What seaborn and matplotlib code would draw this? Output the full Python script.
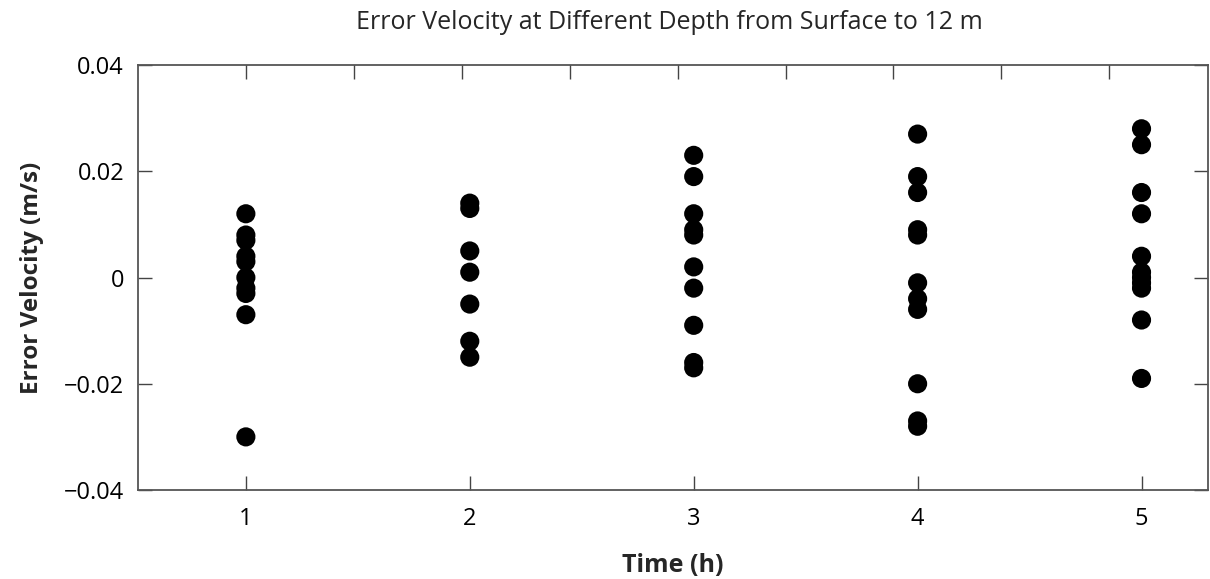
import numpy as np
import pandas as pd
import matplotlib
matplotlib.use("Agg")
import matplotlib.pyplot as plt
import seaborn as sns

# Data
t1 = [0.012, 0.008, 0.007, 0.004, 0.003, 0.0, -0.002, -0.003, -0.007, -0.030]
t2 = [0.014, 0.013, 0.005, 0.001, -0.005, -0.012, -0.015]
t3 = [0.023, 0.019, 0.012, 0.009, 0.008, 0.002, -0.002, -0.009, -0.016, -0.017]
t4 = [0.027, 0.019, 0.016, 0.009, 0.008, -0.001, -0.004, -0.006, -0.020, -0.027, -0.028]
t5 = [0.028, 0.025, 0.016, 0.012, 0.004, 0.001, 0.0, -0.001, -0.002, -0.008, -0.019]
times = [1, 2, 3, 4, 5]
y_ticks = [-0.04, -0.02, 0, 0.02, 0.04]
y_ticklabels = ["\u22120.04", "\u22120.02", "0", "0.02", "0.04"]

series = [t1, t2, t3, t4, t5]
df = pd.DataFrame({
    "time": np.concatenate([[t] * len(s) for t, s in zip(times, series)]),
    "err": np.concatenate(series),
})

sns.set_style("ticks")
plt.rcParams["font.family"] = ["Open Sans", "DejaVu Sans"]

fig = plt.figure(figsize=(12.10, 5.79), dpi=100)
ax = fig.add_axes([0.114, 0.1537, 0.884, 0.734])

sns.scatterplot(data=df, x="time", y="err", ax=ax, color="black",
                s=190, edgecolor="none", linewidth=0, legend=False)

ax.set_xlim(0.518, 5.295)
ax.set_ylim(-0.04, 0.04)
ax.set_xticks(times)
ax.set_xticklabels([str(t) for t in times], fontsize=17)
ax.set_yticks(y_ticks)
ax.set_yticklabels(y_ticklabels, fontsize=17)
ax.tick_params(axis="both", direction="in", length=10, width=1.0,
               color="#444444", labelcolor="black", pad=10,
               right=True)
ax.tick_params(axis="x", pad=12)
for sp in ax.spines.values():
    sp.set_color("#555555")
    sp.set_linewidth(1.3)
    sp.set_visible(True)

# Top axis ticks (finer spacing, unlabeled)
top = ax.twiny()
top.set_xlim(ax.get_xlim())
top.set_xticks([1 + k * 0.482 for k in range(9)])
top.set_xticklabels([])
top.tick_params(axis="x", direction="in", length=10, width=1.0, color="#444444")
for sp in top.spines.values():
    sp.set_visible(False)

ax.set_xlabel("Time (h)", fontsize=18, fontweight="bold", labelpad=16)
ax.set_ylabel("Error Velocity (m/s)", fontsize=17.5, fontweight="bold", labelpad=14)
fig.text(0.553, 0.962, "Error Velocity at Different Depth from Surface to 12 m",
         ha="center", va="center", fontsize=18)

fig.savefig("out.png", dpi=100, facecolor="white")
